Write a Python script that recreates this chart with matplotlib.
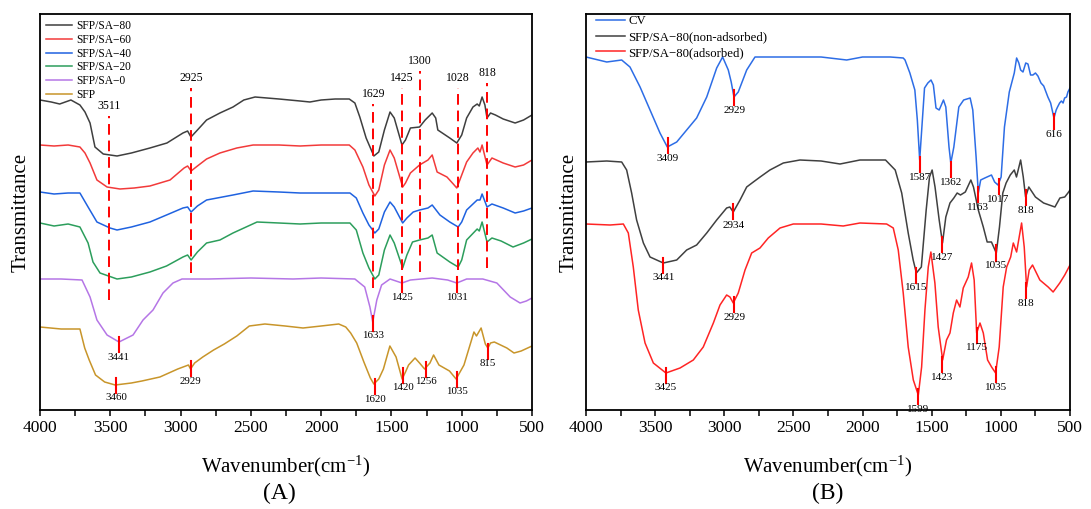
import numpy as np
import matplotlib
matplotlib.use('Agg')
import matplotlib.pyplot as plt

plt.rcParams['font.family'] = 'Liberation Serif'
plt.rcParams['mathtext.fontset'] = 'custom'
plt.rcParams['mathtext.rm'] = 'Liberation Serif'
plt.rcParams['mathtext.it'] = 'Liberation Serif:italic'

# ---- panel A spectra: (wavenumber, stacked transmittance) ----
a_sa80 = [(4000, 310), (3920, 308), (3860, 306), (3780, 310), (3716, 305), (3680, 298), (3644, 287),
          (3609, 263), (3550, 256), (3452, 254), (3350, 257), (3218, 262), (3097, 267), (2983, 277),
          (2950, 279), (2926, 273), (2880, 280), (2815, 290), (2720, 297), (2627, 303), (2550, 310),
          (2470, 313), (2300, 311), (2150, 309), (2080, 308), (2000, 310), (1900, 311), (1800, 311),
          (1760, 307), (1725, 293), (1680, 272), (1625, 254), (1590, 258), (1550, 280), (1510, 298),
          (1480, 292), (1425, 265), (1400, 270), (1365, 282), (1300, 283), (1260, 290), (1210, 297),
          (1185, 292), (1170, 280), (1085, 272), (1035, 267), (1000, 275), (965, 292), (920, 303),
          (890, 306), (875, 304), (855, 313), (835, 305), (820, 292), (795, 297), (760, 295),
          (705, 291), (620, 287), (560, 290), (500, 295)]
a_sa60 = [(4000, 265), (3900, 264), (3800, 265), (3716, 263), (3680, 257), (3644, 247), (3595, 230),
          (3523, 223), (3431, 221), (3330, 222), (3218, 224), (3075, 230), (2975, 242), (2950, 244),
          (2925, 239), (2880, 244), (2815, 251), (2720, 257), (2600, 262), (2484, 265), (2300, 265),
          (2150, 264), (2000, 265), (1800, 265), (1760, 260), (1703, 243), (1660, 225), (1618, 214),
          (1590, 220), (1550, 245), (1510, 260), (1480, 252), (1420, 223), (1400, 227), (1365, 237),
          (1300, 245), (1240, 250), (1210, 255), (1175, 238), (1105, 233), (1060, 226), (1035, 222),
          (1000, 235), (965, 248), (920, 257), (885, 262), (870, 258), (855, 265), (820, 245),
          (785, 252), (705, 247), (620, 243), (560, 245), (500, 250)]
a_sa40 = [(4000, 218), (3900, 216), (3800, 217), (3716, 217), (3658, 203), (3595, 188), (3502, 182),
          (3452, 180), (3350, 183), (3218, 188), (3100, 195), (2983, 202), (2950, 203), (2925, 198),
          (2880, 204), (2815, 210), (2627, 215), (2484, 219), (2300, 218), (2150, 217), (2000, 217),
          (1795, 217), (1750, 212), (1703, 197), (1660, 185), (1618, 177), (1590, 181), (1550, 198),
          (1510, 208), (1480, 203), (1420, 187), (1390, 192), (1345, 198), (1300, 200), (1240, 202),
          (1210, 205), (1155, 195), (1085, 188), (1025, 183), (1000, 188), (965, 200), (890, 210),
          (870, 210), (855, 216), (820, 203), (785, 206), (705, 202), (620, 197), (560, 199), (500, 202)]
a_sa20 = [(4000, 187), (3900, 184), (3800, 186), (3716, 183), (3658, 167), (3623, 148), (3573, 137),
          (3452, 131), (3350, 133), (3218, 138), (3100, 144), (2983, 153), (2950, 155), (2925, 150),
          (2880, 158), (2815, 167), (2720, 170), (2627, 177), (2456, 188), (2300, 187), (2150, 186),
          (2000, 187), (1795, 187), (1750, 180), (1703, 157), (1660, 142), (1618, 131), (1590, 135),
          (1550, 160), (1510, 175), (1480, 167), (1420, 142), (1390, 155), (1350, 168), (1300, 170),
          (1240, 172), (1210, 175), (1175, 157), (1085, 148), (1025, 143), (1000, 150), (965, 170),
          (890, 181), (875, 179), (855, 188), (820, 168), (785, 172), (720, 169), (635, 163),
          (560, 167), (500, 171)]
a_sa0 = [(4000, 131), (3850, 131), (3701, 130), (3644, 113), (3595, 90), (3523, 75), (3438, 68),
         (3338, 75), (3267, 90), (3196, 100), (3125, 117), (3054, 127), (2990, 131), (2800, 131),
         (2500, 132), (2200, 131), (2000, 132), (1760, 131), (1690, 123), (1653, 103), (1633, 88),
         (1604, 110), (1570, 125), (1510, 131), (1425, 127), (1365, 130), (1210, 132), (1100, 130),
         (1035, 127), (965, 131), (850, 131), (750, 127), (655, 113), (585, 107), (540, 109), (500, 112)]
a_sfp = [(4000, 83), (3850, 81), (3716, 81), (3682, 62), (3650, 50), (3605, 35), (3540, 28), (3465, 25),
         (3350, 27), (3275, 29), (3147, 33), (3020, 41), (2944, 45), (2929, 41), (2900, 47), (2842, 53),
         (2765, 60), (2689, 66), (2600, 74), (2511, 84), (2400, 86), (2256, 84), (2129, 82), (2000, 84),
         (1875, 86), (1825, 83), (1790, 77), (1747, 67), (1696, 48), (1650, 32), (1625, 26), (1590, 31),
         (1557, 41), (1511, 64), (1467, 53), (1424, 31), (1400, 38), (1378, 45), (1332, 52), (1300, 47),
         (1264, 41), (1226, 47), (1200, 55), (1162, 45), (1087, 39), (1040, 31), (984, 45), (913, 78),
         (895, 74), (862, 82), (832, 66), (814, 62), (795, 67), (768, 68), (679, 62), (628, 57),
         (577, 59), (500, 64)]

a_names = ['SFP/SA\u221280', 'SFP/SA\u221260', 'SFP/SA\u221240', 'SFP/SA\u221220', 'SFP/SA\u22120', 'SFP']
a_colors = ['#3f3f3f', '#f23a3a', '#1f62e0', '#2c9e5c', '#b576e6', '#c8952a']

# dashed guide lines of panel A (wavenumber, upper end, lower end)
a_dash_wn = [3511, 2925, 1629, 1425, 1300, 1028, 818]
a_dash_top = [294, 322, 306, 322, 339, 322, 327]
a_dash_bottom = [110, 137, 122, 140, 138, 140, 142]

# short peak marks of panel A
a_marks_wn = [3441, 1633, 1425, 1031, 3460, 2929, 1620, 1420, 1256, 1035, 815]
a_marks_y = [66, 87, 126, 126, 25, 42, 24, 35, 41, 31, 59]

# ---- panel B spectra ----
b_cv = [(4000, 353), (3850, 348), (3742, 350), (3682, 343), (3609, 323), (3537, 300), (3465, 277),
        (3412, 263), (3344, 268), (3272, 280), (3200, 292), (3127, 313), (3055, 342), (3012, 353),
        (2971, 340), (2950, 328), (2930, 313), (2899, 318), (2838, 340), (2778, 353), (2500, 353),
        (2300, 353), (2115, 350), (2000, 353), (1800, 353), (1706, 352), (1693, 350), (1658, 337),
        (1622, 320), (1604, 290), (1587, 250), (1571, 283), (1552, 322), (1528, 327), (1505, 330),
        (1488, 325), (1469, 302), (1446, 300), (1415, 310), (1398, 303), (1375, 263), (1362, 247),
        (1340, 263), (1304, 303), (1269, 310), (1222, 312), (1203, 300), (1179, 253), (1163, 217),
        (1146, 230), (1116, 232), (1068, 235), (1045, 228), (1021, 225), (998, 233), (974, 283),
        (939, 318), (903, 337), (886, 352), (870, 347), (857, 340), (840, 338), (820, 347),
        (804, 346), (785, 335), (768, 335), (750, 337), (732, 334), (710, 327), (690, 324),
        (660, 313), (640, 307), (616, 292), (600, 300), (590, 303), (575, 307), (562, 309),
        (550, 307), (539, 312), (525, 313), (515, 318), (500, 322)]
b_nonads = [(4000, 248), (3850, 249), (3742, 248), (3706, 240), (3670, 217), (3634, 190), (3585, 167),
            (3537, 153), (3441, 147), (3344, 150), (3272, 160), (3200, 165), (3127, 177), (3055, 190),
            (2983, 202), (2960, 203), (2935, 198), (2886, 210), (2838, 223), (2790, 228), (2741, 233),
            (2670, 240), (2573, 247), (2453, 250), (2300, 249), (2163, 246), (2019, 250), (1900, 250),
            (1834, 250), (1764, 240), (1717, 217), (1670, 177), (1634, 150), (1611, 137), (1575, 143),
            (1540, 200), (1516, 233), (1497, 240), (1476, 223), (1446, 190), (1422, 167), (1398, 193),
            (1368, 207), (1340, 212), (1316, 217), (1292, 215), (1257, 218), (1217, 230), (1198, 223),
            (1163, 200), (1127, 183), (1099, 168), (1068, 168), (1033, 157), (1010, 183), (986, 217),
            (962, 227), (932, 235), (903, 240), (887, 233), (857, 250), (838, 233), (821, 213),
            (798, 223), (750, 213), (691, 207), (609, 203), (573, 212), (538, 213), (515, 217), (500, 220)]
b_ads = [(4000, 186), (3826, 185), (3730, 186), (3694, 177), (3658, 143), (3622, 100), (3573, 67),
         (3513, 47), (3422, 37), (3320, 42), (3224, 50), (3152, 63), (3079, 87), (3031, 105), (2983, 115),
         (2959, 113), (2935, 107), (2899, 117), (2850, 140), (2802, 157), (2742, 162), (2682, 172),
         (2597, 182), (2501, 186), (2300, 186), (2140, 184), (2019, 187), (1826, 186), (1778, 182),
         (1742, 160), (1706, 117), (1670, 63), (1633, 30), (1597, 15), (1573, 43), (1549, 100),
         (1525, 143), (1506, 158), (1477, 127), (1453, 83), (1421, 50), (1393, 70), (1368, 77),
         (1344, 97), (1320, 110), (1296, 103), (1272, 122), (1236, 133), (1212, 147), (1193, 130),
         (1175, 77), (1151, 87), (1127, 77), (1096, 50), (1067, 43), (1038, 37), (1012, 63), (983, 123),
         (958, 143), (929, 153), (910, 167), (886, 158), (850, 187), (831, 163), (814, 123), (795, 140),
         (771, 145), (718, 130), (658, 123), (622, 118), (574, 127), (538, 135), (500, 145)]

b_names = ['CV', 'SFP/SA\u221280(non-adsorbed)', 'SFP/SA\u221280(adsorbed)']
b_colors = ['#2d6de6', '#404040', '#ff2424']

b_marks_wn = [3409, 2929, 1587, 1362, 1163, 1017, 616, 3441, 2934, 1615, 1427, 1035, 818,
              3425, 2929, 1599, 1423, 1175, 1035, 818]
b_marks_y = [264, 312, 245, 240, 215, 223, 288, 145, 198, 135, 165, 157, 212,
             35, 106, 14, 46, 75, 36, 120]


def style_axes(ax, ypad):
    ax.set_xlim(4000, 500)
    ax.set_ylim(0, 396)
    ax.set_xticks(np.arange(4000, 499, -500))
    ax.set_xticks(np.arange(3750, 500, -500), minor=True)
    ax.tick_params(axis='x', which='both', direction='out', length=4, width=1.1,
                   labelsize=12.5, pad=3, top=False)
    ax.tick_params(axis='y', which='both', left=False, labelleft=False)
    for s in ax.spines.values():
        s.set_linewidth(1.3)
    ax.set_xlabel('Wavenumber(cm$^{-1}$)', fontsize=15, labelpad=13)
    ax.set_ylabel('Transmittance', fontsize=15, labelpad=ypad)


def add_marks(ax, wn, yv, size):
    for w, y in zip(wn, yv):
        ax.plot([w, w], [y - 7.5, y + 7.5], color='red', lw=1.5)
        ax.text(w, y - 8.5, str(w), ha='center', va='top', fontsize=size, clip_on=False)


fig = plt.figure(figsize=(10.91, 5.09), dpi=100)
ax_a = fig.add_axes([40 / 1091, 99 / 509, 492 / 1091, 396 / 509])
ax_b = fig.add_axes([586 / 1091, 99 / 509, 484 / 1091, 396 / 509])

# panel A
for data, name, col in zip([a_sa80, a_sa60, a_sa40, a_sa20, a_sa0, a_sfp], a_names, a_colors):
    arr = np.array(data)
    ax_a.plot(arr[:, 0], arr[:, 1], color=col, lw=1.1, label=name)

for w, top, bot in zip(a_dash_wn, a_dash_top, a_dash_bottom):
    ax_a.plot([w, w], [bot, top], color='red', lw=1.4, ls=(0, (5.5, 3)))
    ax_a.text(w, top + 4, str(w), ha='center', va='bottom', fontsize=8.5)

add_marks(ax_a, a_marks_wn, a_marks_y, 7.8)
style_axes(ax_a, 7)
ax_a.legend(loc='upper left', bbox_to_anchor=(0.012, 0.985), frameon=False, fontsize=8.3,
            handlelength=2.3, handletextpad=0.3, labelspacing=0.16, borderpad=0, borderaxespad=0)

# panel B
for data, name, col in zip([b_cv, b_nonads, b_ads], b_names, b_colors):
    arr = np.array(data)
    ax_b.plot(arr[:, 0], arr[:, 1], color=col, lw=1.1, label=name)

add_marks(ax_b, b_marks_wn, b_marks_y, 8)
style_axes(ax_b, 5)
ax_b.legend(loc='upper left', bbox_to_anchor=(0.02, 0.997), frameon=False, fontsize=9.2,
            handlelength=2.3, handletextpad=0.25, labelspacing=0.3, borderpad=0, borderaxespad=0)

fig.text(279 / 1091, 1 - 493 / 509, '(A)', ha='center', va='center', fontsize=17)
fig.text(828 / 1091, 1 - 493 / 509, '(B)', ha='center', va='center', fontsize=17)

fig.savefig('out.png', dpi=100)
